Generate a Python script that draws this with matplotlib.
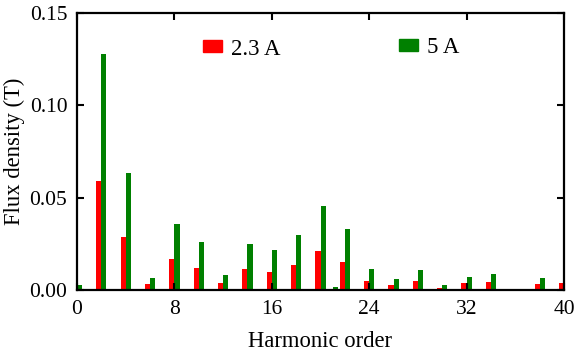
import matplotlib
matplotlib.use("Agg")
import matplotlib.pyplot as plt
import numpy as np
from matplotlib.patches import Patch

harmonics = list(range(0, 41))
flux_2p3A = [0.0, 0.0, 0.059, 0.0, 0.0289, 0.0, 0.0032, 0.0, 0.0166, 0.0, 0.0119,
             0.0, 0.0036, 0.0, 0.0114, 0.0, 0.0097, 0.0, 0.0135, 0.0, 0.0211,
             0.0005, 0.0153, 0.0, 0.0050, 0.0, 0.0027, 0.0, 0.0050, 0.0, 0.0011,
             0.0, 0.0036, 0.0, 0.0042, 0.0, 0.0, 0.0, 0.0032, 0.0, 0.0036]
flux_5A = [0.0027, 0.0005, 0.1277, 0.0, 0.0631, 0.0, 0.0065, 0.0, 0.0357, 0.0005, 0.0261,
           0.0, 0.0080, 0.0, 0.0247, 0.0004, 0.0216, 0.0004, 0.0298, 0.0004, 0.0455,
           0.0016, 0.0330, 0.0004, 0.0112, 0.0, 0.0060, 0.0004, 0.0108, 0.0, 0.0027,
           0.0, 0.0072, 0.0004, 0.0087, 0.0, 0.0, 0.0, 0.0065, 0.0, 0.0]
labels = ["2.3 A", "5 A"]
xticks = [0, 8, 16, 24, 32, 40]
yticks = [0.00, 0.05, 0.10, 0.15]

plt.rcParams['font.family'] = ['Liberation Serif', 'DejaVu Serif']

fig = plt.figure(figsize=(5.74, 3.58), dpi=100)
ax = fig.add_axes([77/574, 1-290/358, (564-77)/574, (290-13)/358])

x = np.array(harmonics)
w = 0.42
ax.bar(x - w/2, flux_2p3A, width=w, color='#ff0000', linewidth=0)
ax.bar(x + w/2, flux_5A, width=w, color='#008000', linewidth=0)

ax.set_xlim(0, 40)
ax.set_ylim(0, 0.15)
ax.set_xticks(xticks)
ax.set_yticks(yticks)
ax.set_yticklabels([f"{v:.2f}" for v in yticks])
ax.tick_params(direction='in', length=5, width=1.5, labelsize=15.5,
               top=True, right=True, pad=7)
for s in ax.spines.values():
    s.set_linewidth(1.6)
ax.set_axisbelow(False)

ax.set_xlabel("Harmonic order", fontsize=16.3, labelpad=9)
ax.set_ylabel("Flux density (T)", fontsize=16.3, labelpad=3)

common = dict(frameon=False, fontsize=16.5, handlelength=0.83, handleheight=0.44,
              handletextpad=0.39, borderaxespad=0, borderpad=0, loc='center left')
leg1 = ax.legend([Patch(color='#ff0000')], [labels[0]],
                 bbox_to_anchor=(0.258, 0.870), **common)
ax.add_artist(leg1)
leg2 = ax.legend([Patch(color='#008000')], [labels[1]],
                 bbox_to_anchor=(0.661, 0.876), **common)

fig.savefig("out.png", dpi=100)
